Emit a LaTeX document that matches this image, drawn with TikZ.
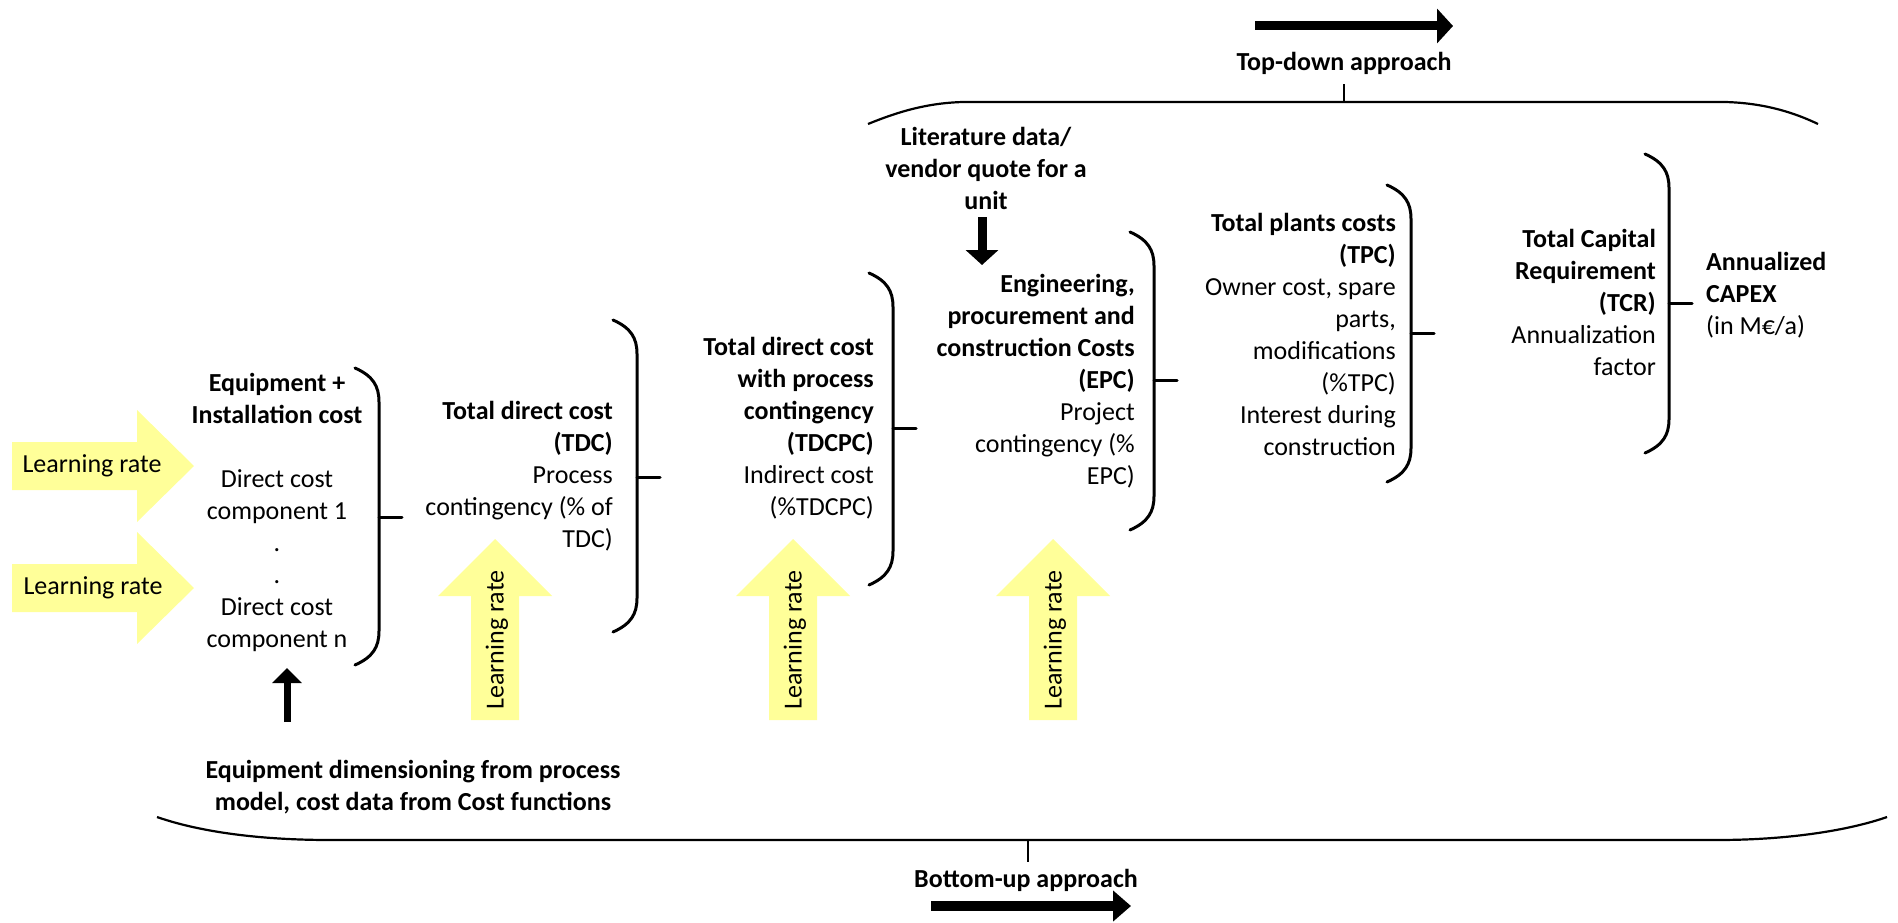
\documentclass[tikz,border=0pt]{standalone}
\usepackage{fontspec}
\setmainfont{Carlito}
\usetikzlibrary{arrows.meta}

\definecolor{lryellow}{RGB}{255,255,153}

\tikzset{
  txt/.style={inner sep=0pt, font=\fontsize{26}{32}\selectfont},
  costlist/.style={txt, anchor=east, align=right},
  brace/.style={line width=3pt, line cap=round},
  bigbrace/.style={line width=2.2pt},
  lrarrow/.style={fill=lryellow},
  blkarrow/.style={-{Triangle[length=15pt,width=32pt]}},
}

% x of the vertical stroke, top end, bottom end, height of the tick
\newcommand\costbrace[4]{%
  \draw[brace] (#1-24,#2) .. controls (#1-6,#2+8) and (#1,#2+18) .. (#1,#2+34)
    -- (#1,#3-34) .. controls (#1,#3-18) and (#1-6,#3-8) .. (#1-24,#3);
  \draw[brace] (#1,#4) -- ++(23,0);
}

\begin{document}
\begin{tikzpicture}[x=1pt,y=-1pt]
  \useasboundingbox (0,0) rectangle (1898,923);

  % learning rate arrows
  \fill[lrarrow] (12,442) -- (137,442) -- (137,410) -- (194,466) -- (137,522) -- (137,490) -- (12,490) -- cycle;
  \fill[lrarrow] (12,564) -- (137,564) -- (137,532) -- (194,588) -- (137,644) -- (137,612) -- (12,612) -- cycle;
  \fill[lrarrow] (471,720) -- (471,596) -- (438,596) -- (495,539) -- (552,596) -- (519,596) -- (519,720) -- cycle;
  \fill[lrarrow] (769,720) -- (769,596) -- (736,596) -- (793,539) -- (850,596) -- (817,596) -- (817,720) -- cycle;
  \fill[lrarrow] (1029,720) -- (1029,596) -- (996,596) -- (1053,539) -- (1110,596) -- (1077,596) -- (1077,720) -- cycle;
  \node[txt] (lr1) at (92,466) {Learning rate};
  \node[txt] (lr2) at (93,588) {Learning rate};
  \node[txt, rotate=90] (lr3) at (497,640) {Learning rate};
  \node[txt, rotate=90] (lr4) at (795,640) {Learning rate};
  \node[txt, rotate=90] (lr5) at (1055,640) {Learning rate};

  % cost levels
  \node[txt, align=center] (equip) at (277,512)
    {\textbf{Equipment +}\\\textbf{Installation cost}\\\mbox{}\\Direct cost\\component 1\\.\\.\\Direct cost\\component n};
  \node[costlist] (tdc) at (613,476)
    {\textbf{Total direct cost}\\\textbf{(TDC)}\\Process\\contingency (\% of\\TDC)};
  \node[costlist] (tdcpc) at (874,428)
    {\textbf{Total direct cost}\\\textbf{with process}\\\textbf{contingency}\\\textbf{(TDCPC)}\\Indirect cost\\(\%TDCPC)};
  \node[costlist] (epc) at (1135,381)
    {\textbf{Engineering,}\\\textbf{procurement and}\\\textbf{construction Costs}\\\textbf{(EPC)}\\Project\\contingency (\%\\EPC)};
  \node[costlist] (tpc) at (1396,334)
    {\textbf{Total plants costs}\\\textbf{(TPC)}\\Owner cost, spare\\parts,\\modifications\\(\%TPC)\\Interest during\\construction};
  \node[costlist] (tcr) at (1656,302)
    {\textbf{Total Capital}\\\textbf{Requirement}\\\textbf{(TCR)}\\Annualization\\factor};
  \node[txt, anchor=west, align=left] (capex) at (1706,295)
    {\textbf{Annualized}\\\textbf{CAPEX}\\(in M€/a)};

  \costbrace{379}{368}{665}{517}
  \costbrace{637}{320}{632}{477}
  \costbrace{893}{273}{585}{428}
  \costbrace{1154}{232}{530}{380}
  \costbrace{1411}{185}{482}{333}
  \costbrace{1669}{154}{453}{303}

  % data sources
  \node[txt, align=center, font=\fontsize{26}{32}\selectfont\bfseries] (lit) at (986,168)
    {Literature data/\\vendor quote for a\\unit};
  \node[txt, align=center, font=\fontsize{26}{32}\selectfont\bfseries] (eqdim) at (413,787)
    {Equipment dimensioning from process\\model, cost data from Cost functions};
  \coordinate (litA) at (982,217);
  \coordinate (litB) at (982,265);
  \draw[blkarrow, line width=9pt] (litA) -- (litB);
  \coordinate (eqA) at (287,722);
  \coordinate (eqB) at (287,668);
  \draw[blkarrow, line width=7pt, -{Triangle[length=15pt,width=29pt]}] (eqA) -- (eqB);

  % approaches
  \node[txt, font=\fontsize{26}{32}\selectfont\bfseries] (topdown) at (1344,63) {Top-down approach};
  \draw[bigbrace] (868,124) .. controls (895,113) and (925,103) .. (963,102) -- (1725,102)
    .. controls (1765,103) and (1795,113) .. (1818,124);
  \draw[bigbrace] (1344,102) -- (1344,84);
  \coordinate (tdA) at (1255,26);
  \coordinate (tdB) at (1453,26);
  \draw[blkarrow, line width=9pt, -{Triangle[length=16pt,width=34pt]}] (tdA) -- (tdB);

  \node[txt, font=\fontsize{26}{32}\selectfont\bfseries] (bottomup) at (1026,880) {Bottom-up approach};
  \draw[bigbrace] (157,817) .. controls (200,832) and (260,840) .. (330,840) -- (1717,840)
    .. controls (1790,840) and (1850,830) .. (1887,817);
  \draw[bigbrace] (1028,840) -- (1028,862);
  \coordinate (buA) at (931,906);
  \coordinate (buB) at (1131,906);
  \draw[blkarrow, line width=10pt, -{Triangle[length=18pt,width=30pt]}] (buA) -- (buB);
\end{tikzpicture}
\end{document}
